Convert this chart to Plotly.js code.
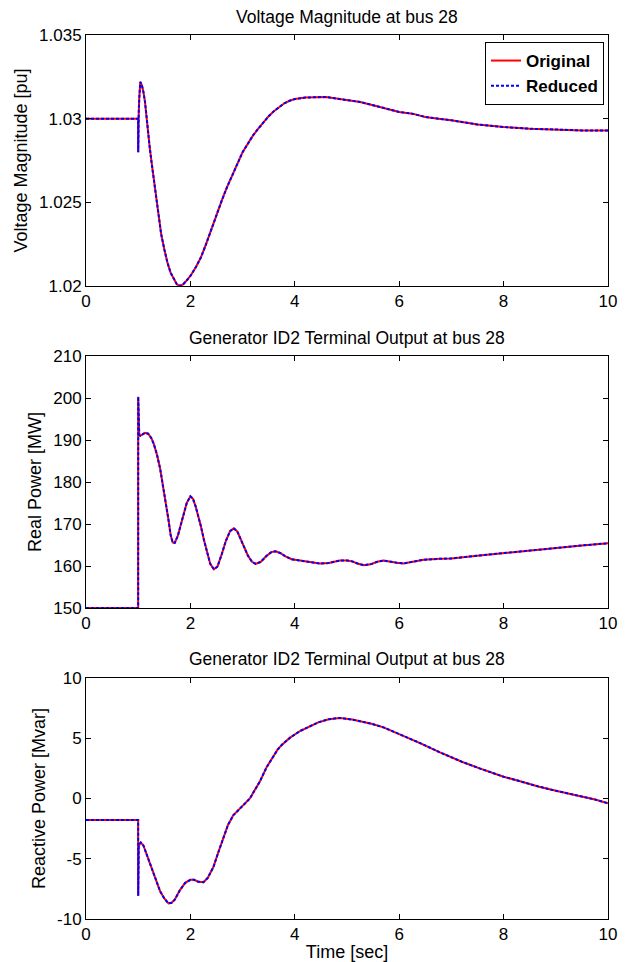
<!DOCTYPE html>
<html>
<head>
<meta charset="utf-8">
<script src="https://cdn.plot.ly/plotly-3.0.1.min.js"></script>
<style>html,body{margin:0;padding:0;background:#fff;}#chart{width:627px;height:962px;}</style>
</head>
<body>
<div id="chart"></div>
<script>
// ---- Data ----
const seriesNames = ["Original", "Reduced"];
const plotTitles = ["Voltage Magnitude at bus 28", "Generator ID2 Terminal Output at bus 28", "Generator ID2 Terminal Output at bus 28"];
const yTitles = ["Voltage Magnitude [pu]", "Real Power [MW]", "Reactive Power [Mvar]"];
const xTitle = "Time [sec]";
const xTickVals = [0, 2, 4, 6, 8, 10];
const voltTickVals = [1.02, 1.025, 1.03, 1.035];
const voltTickText = ["1.02", "1.025", "1.03", "1.035"];
const realTickVals = [150, 160, 170, 180, 190, 200, 210];
const reacTickVals = [-10, -5, 0, 5, 10];

const timeVoltage = [0, 0.999, 1.0, 1.002, 1.01, 1.02, 1.04, 1.07, 1.1, 1.13, 1.17, 1.22, 1.26, 1.32, 1.38, 1.44, 1.5, 1.56, 1.62, 1.68, 1.74, 1.8, 1.86, 1.92, 2.0, 2.1, 2.2, 2.3, 2.4, 2.5, 2.6, 2.7, 2.8, 2.9, 3.0, 3.1, 3.2, 3.3, 3.4, 3.5, 3.6, 3.7, 3.8, 3.9, 4.0, 4.2, 4.4, 4.6, 4.8, 5.0, 5.25, 5.5, 5.75, 6.0, 6.25, 6.5, 6.75, 7.0, 7.5, 8.0, 8.5, 9.0, 9.5, 10];
const voltageOriginal = [1.0300, 1.0300, 1.0280, 1.0300, 1.0303, 1.0312, 1.0322, 1.0320, 1.0316, 1.0310, 1.0296, 1.0283, 1.0273, 1.0259, 1.0245, 1.0231, 1.0222, 1.0214, 1.0208, 1.0204, 1.0201, 1.0200, 1.0201, 1.0203, 1.0206, 1.0211, 1.0217, 1.0225, 1.0234, 1.0243, 1.0251, 1.0259, 1.0266, 1.0273, 1.0280, 1.0285, 1.0290, 1.0294, 1.0298, 1.03015, 1.03045, 1.0307, 1.03092, 1.03107, 1.03117, 1.03126, 1.0313, 1.0313, 1.0312, 1.0311, 1.0310, 1.0308, 1.0306, 1.0304, 1.0303, 1.0301, 1.0300, 1.0299, 1.02965, 1.0295, 1.0294, 1.02935, 1.0293, 1.0293];
const voltageReduced = voltageOriginal.slice();

const timeReal = [0, 0.999, 1.0, 1.005, 1.01, 1.02, 1.04, 1.08, 1.13, 1.19, 1.25, 1.30, 1.36, 1.42, 1.48, 1.53, 1.58, 1.62, 1.66, 1.7, 1.76, 1.82, 1.87, 1.93, 2.0, 2.05, 2.1, 2.14, 2.2, 2.26, 2.32, 2.38, 2.45, 2.52, 2.6, 2.68, 2.76, 2.83, 2.9, 2.96, 3.02, 3.1, 3.18, 3.25, 3.35, 3.45, 3.55, 3.63, 3.72, 3.82, 3.94, 4.05, 4.17, 4.3, 4.48, 4.65, 4.86, 5.0, 5.1, 5.2, 5.32, 5.45, 5.58, 5.7, 5.85, 5.95, 6.08, 6.25, 6.47, 6.77, 7.0, 7.54, 8.0, 8.3, 8.7, 9.07, 9.5, 10];
const realOriginal = [150, 150, 200.3, 196, 193, 191.2, 191.0, 191.3, 191.7, 191.5, 190.5, 189.0, 186.5, 183.2, 179.0, 175.5, 171.0, 167.5, 165.6, 165.5, 167.2, 170.0, 172.2, 175.0, 176.6, 176.0, 174.2, 172.4, 169.5, 166.2, 163.0, 160.5, 159.2, 159.9, 162.8, 166.0, 168.3, 169.0, 168.2, 166.6, 164.7, 162.5, 161.0, 160.5, 161.0, 162.3, 163.3, 163.5, 163.1, 162.3, 161.6, 161.4, 161.2, 161.0, 160.6, 160.7, 161.3, 161.3, 161.1, 160.6, 160.2, 160.4, 161.0, 161.3, 161.1, 160.8, 160.6, 161.0, 161.5, 161.7, 161.8, 162.5, 163.1, 163.5, 164.0, 164.5, 164.9, 165.4];
const realReduced = realOriginal.slice();

const timeReactive = [0, 0.999, 1.0, 1.003, 1.01, 1.03, 1.05, 1.1, 1.17, 1.24, 1.29, 1.35, 1.42, 1.5, 1.58, 1.64, 1.7, 1.8, 1.9, 2.0, 2.07, 2.15, 2.25, 2.33, 2.44, 2.54, 2.63, 2.72, 2.82, 2.92, 3.03, 3.14, 3.22, 3.33, 3.46, 3.59, 3.67, 3.75, 3.91, 4.1, 4.3, 4.45, 4.65, 4.86, 5.1, 5.3, 5.47, 5.7, 6.0, 6.4, 6.77, 7.2, 7.54, 8.0, 8.3, 8.68, 9.0, 9.45, 9.75, 10];
const reactiveOriginal = [-1.78, -1.78, -8.08, -5.0, -4.0, -3.75, -3.65, -3.9, -4.7, -5.6, -6.2, -6.9, -7.7, -8.3, -8.7, -8.65, -8.4, -7.6, -7.0, -6.75, -6.75, -6.9, -6.95, -6.6, -5.7, -4.4, -3.2, -2.2, -1.4, -0.95, -0.5, 0.0, 0.6, 1.4, 2.6, 3.55, 4.05, 4.45, 5.05, 5.6, 6.05, 6.32, 6.58, 6.69, 6.55, 6.35, 6.2, 5.9, 5.35, 4.6, 3.85, 3.05, 2.5, 1.81, 1.45, 0.98, 0.65, 0.25, -0.08, -0.40];
const reactiveReduced = reactiveOriginal.slice();

// ---- Styles ----
const FONT = "Arial, 'Liberation Sans', Helvetica, sans-serif";
const redLine = {color: "#ff0000", width: 2, dash: "solid"};
const blueLine = {color: "#0000ff", width: 2, dash: "3px,2px"};

function pair(t, orig, red, xa, ya, showLeg) {
  return [
    {x: t, y: orig, type: "scatter", mode: "lines", name: seriesNames[0], line: redLine, xaxis: xa, yaxis: ya, showlegend: showLeg},
    {x: t, y: red, type: "scatter", mode: "lines", name: seriesNames[1], line: blueLine, xaxis: xa, yaxis: ya, showlegend: showLeg}
  ];
}

const traces = [].concat(
  pair(timeVoltage, voltageOriginal, voltageReduced, "x", "y", true),
  pair(timeReal, realOriginal, realReduced, "x2", "y2", false),
  pair(timeReactive, reactiveOriginal, reactiveReduced, "x3", "y3", false)
);

const W = 627, H = 962;
const xDom = [86 / W, 608 / W];
function ydom(top, bottom) { return [1 - bottom / H, 1 - top / H]; }

const TICK = 17, TITLE = 17.5, ATITLE = 18;
const axBase = {
  showline: true, linecolor: "#000", linewidth: 1, mirror: "ticks",
  ticks: "inside", ticklen: 5, tickcolor: "#000", tickwidth: 1,
  showgrid: false, zeroline: false,
  tickfont: {family: FONT, size: TICK, color: "#000"}
};
function xax(anchor, title) {
  const a = Object.assign({}, axBase, {domain: xDom, anchor: anchor, range: [0, 10], tickvals: xTickVals, ticktext: xTickVals.map(String)});
  if (title) a.title = {text: title, font: {family: FONT, size: ATITLE, color: "#000"}, standoff: 3};
  return a;
}
function yax(anchor, dom, range, vals, text, title) {
  return Object.assign({}, axBase, {domain: dom, anchor: anchor, range: range, tickvals: vals, ticktext: text,
    title: {text: title, font: {family: FONT, size: ATITLE, color: "#000"}, standoff: 6}});
}

const layout = {
  width: W, height: H, autosize: false,
  margin: {l: 0, r: 0, t: 0, b: 0},
  paper_bgcolor: "#fff", plot_bgcolor: "#fff",
  font: {family: FONT, size: TICK, color: "#000"},
  xaxis: xax("y"),
  yaxis: yax("x", ydom(35, 286), [1.02, 1.035], voltTickVals, voltTickText, yTitles[0]),
  xaxis2: xax("y2"),
  yaxis2: yax("x2", ydom(356, 608), [150, 210], realTickVals, realTickVals.map(String), yTitles[1]),
  xaxis3: xax("y3", xTitle),
  yaxis3: yax("x3", ydom(678, 919), [-10, 10], reacTickVals, reacTickVals.map(String), yTitles[2]),
  showlegend: true,
  legend: {
    x: 604 / W, xanchor: "right", y: 1 - 42 / H, yanchor: "top",
    bgcolor: "#fff", bordercolor: "#000", borderwidth: 1,
    font: {family: FONT, size: 17, color: "#000", weight: "bold"},
    tracegroupgap: 0, itemwidth: 30
  },
  annotations: [
    {text: plotTitles[0], xref: "paper", yref: "paper", x: (86 + 608) / 2 / W, y: 1 - 17 / H, xanchor: "center", yanchor: "middle", showarrow: false, font: {family: FONT, size: TITLE, color: "#000"}},
    {text: plotTitles[1], xref: "paper", yref: "paper", x: (86 + 608) / 2 / W, y: 1 - 338 / H, xanchor: "center", yanchor: "middle", showarrow: false, font: {family: FONT, size: TITLE, color: "#000"}},
    {text: plotTitles[2], xref: "paper", yref: "paper", x: (86 + 608) / 2 / W, y: 1 - 659 / H, xanchor: "center", yanchor: "middle", showarrow: false, font: {family: FONT, size: TITLE, color: "#000"}}
  ]
};

Plotly.newPlot("chart", traces, layout, {displayModeBar: false, staticPlot: true});
</script>
</body>
</html>
